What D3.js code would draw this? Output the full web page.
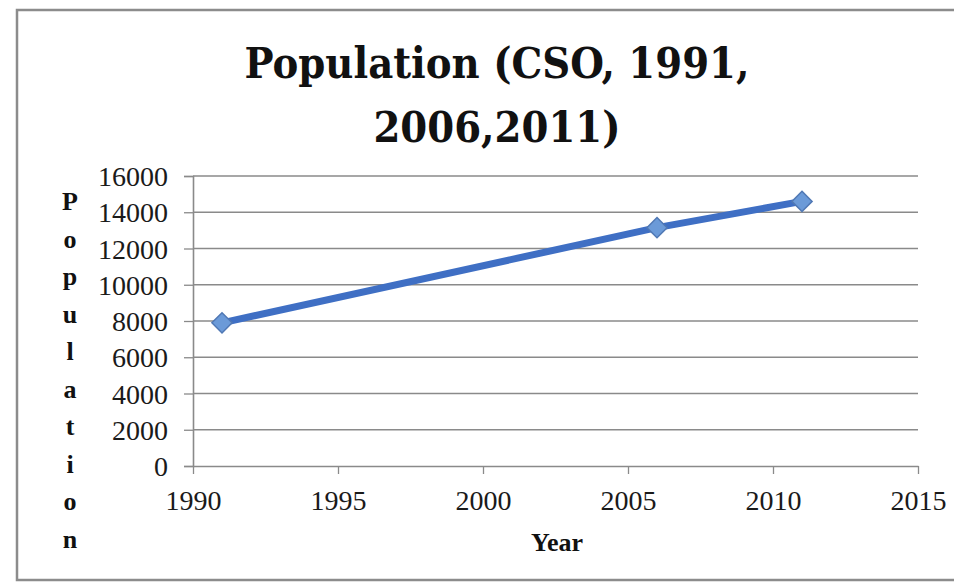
<!DOCTYPE html>
<html>

<head>
  <title>Population (CSO, 1991, 2006, 2011)</title>
  <style>
    body { margin: 0; background: #fff; }
  </style>
</head>

<body>
  <svg id="svg"></svg>

  <script src="https://d3js.org/d3.v7.min.js"></script>
  <script>
    // data
    const years = [1991, 2006, 2011];
    const population = [7900, 13150, 14600];
    const xTicks = [1990, 1995, 2000, 2005, 2010, 2015];
    const yTicks = [0, 2000, 4000, 6000, 8000, 10000, 12000, 14000, 16000];
    const titleLines = ["Population (CSO, 1991,", "2006,2011)"];
    const yTitle = "Population";
    const xTitle = "Year";

    let width = 954, height = 583;
    let margin = { top: 176, right: 36, bottom: 117, left: 193 };
    let plotW = width - margin.left - margin.right;
    let plotH = height - margin.top - margin.bottom;

    let svg = d3.select("#svg").attr("width", width).attr("height", height);

    // chart frame (right side is cut off in the picture)
    svg.append("rect")
      .attr("x", 17).attr("y", 10)
      .attr("width", 960).attr("height", 570)
      .attr("fill", "#fff")
      .attr("stroke", "#8c8c8c")
      .attr("stroke-width", 2.5);

    let xScale = d3.scaleLinear().domain([1990, 2015]).range([0, plotW]);
    let yScale = d3.scaleLinear().domain([0, 16000]).range([plotH, 0]);

    let plot = svg.append("g").attr("transform", `translate(${margin.left}, ${margin.top})`);

    // gridlines
    plot.append("g").selectAll("line")
      .data(yTicks.filter(d => d > 0))
      .join("line")
      .attr("x1", 0).attr("x2", plotW)
      .attr("y1", d => yScale(d)).attr("y2", d => yScale(d))
      .attr("stroke", "#8a8a8a")
      .attr("stroke-width", 1.3);

    let yAxis = plot.append("g")
      .call(d3.axisLeft(yScale).tickValues(yTicks).tickSize(9).tickPadding(16).tickFormat(d3.format("d")));

    let xAxis = plot.append("g")
      .attr("transform", `translate(0, ${plotH})`)
      .call(d3.axisBottom(xScale).tickValues(xTicks).tickSize(8).tickSizeOuter(0).tickPadding(18).tickFormat(d3.format("d")));

    [yAxis, xAxis].forEach(ax => {
      ax.selectAll(".domain").attr("stroke", "#8a8a8a").attr("stroke-width", 1.6);
      ax.selectAll(".tick line").attr("stroke", "#8a8a8a").attr("stroke-width", 1.3);
      ax.selectAll("text")
        .attr("font-family", "'Liberation Serif', 'Times New Roman', serif")
        .attr("font-size", 28)
        .attr("fill", "#1a1a1a");
    });
    yAxis.selectAll("text").attr("dy", "0.34em");
    xAxis.selectAll("text").attr("dy", "0.66em");

    // series line
    let line = d3.line()
      .x((d, i) => xScale(years[i]))
      .y(d => yScale(d));

    plot.append("path")
      .datum(population)
      .attr("d", line)
      .attr("fill", "none")
      .attr("stroke", "#3f6fc4")
      .attr("stroke-width", 7)
      .attr("stroke-linejoin", "round");

    // diamond markers
    plot.append("g").selectAll("path")
      .data(population)
      .join("path")
      .attr("transform", (d, i) => `translate(${xScale(years[i])}, ${yScale(d)})`)
      .attr("d", d3.symbol(d3.symbolDiamond2, 260))
      .attr("fill", "#6b9ad8")
      .attr("stroke", "#5078b4")
      .attr("stroke-width", 1.5);

    // title
    svg.append("g").selectAll("text")
      .data(titleLines)
      .join("text")
      .attr("x", 497)
      .attr("y", (d, i) => 78 + i * 64)
      .attr("text-anchor", "middle")
      .attr("font-family", "'DejaVu Serif Condensed', 'DejaVu Serif', serif")
      .attr("font-weight", "bold")
      .attr("font-size", 43)
      .attr("fill", "#111")
      .text(d => d);

    // vertical y-axis title, one letter per line
    svg.append("g").selectAll("text")
      .data(yTitle.split(""))
      .join("text")
      .attr("x", 70)
      .attr("y", (d, i) => 210 + i * 37.5)
      .attr("text-anchor", "middle")
      .attr("font-family", "'Liberation Serif', 'Times New Roman', serif")
      .attr("font-weight", "bold")
      .attr("font-size", 26)
      .attr("fill", "#111")
      .text(d => d);

    svg.append("text")
      .attr("x", 557)
      .attr("y", 551)
      .attr("text-anchor", "middle")
      .attr("font-family", "'Liberation Serif', 'Times New Roman', serif")
      .attr("font-weight", "bold")
      .attr("font-size", 26)
      .attr("fill", "#111")
      .text(xTitle);
  </script>
</body>

</html>
